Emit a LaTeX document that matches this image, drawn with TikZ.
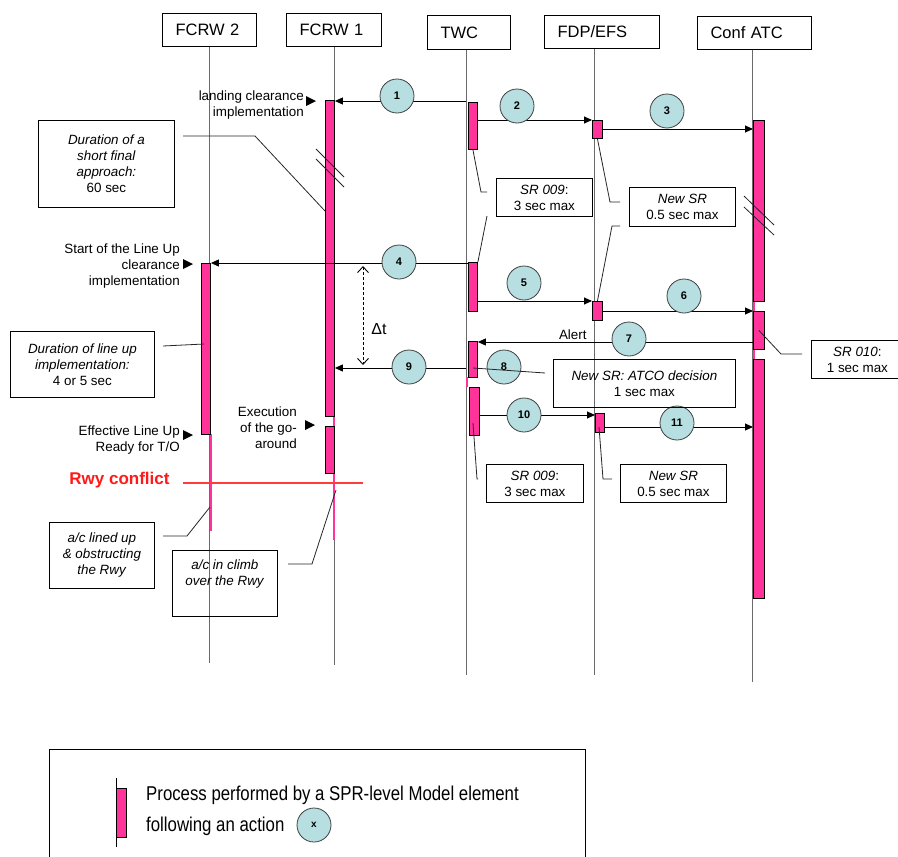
\documentclass[tikz,border=0pt]{standalone}
\usepackage{fontspec}
\setmainfont{Liberation Sans}
\newfontfamily\legendfont{Liberation Sans}[FakeStretch=0.84]
\usetikzlibrary{arrows.meta}
\definecolor{procpink}{HTML}{FF3399}
\definecolor{actfill}{HTML}{B7DEE0}
\definecolor{lifegray}{HTML}{6A6A6A}
\definecolor{conflictred}{HTML}{FF1A1A}
\definecolor{conflictline}{HTML}{FF3C3C}

\begin{document}
\begin{tikzpicture}[x=1pt,y=-1pt,
  font=\fontsize{13.4}{16}\selectfont,
  header/.style={draw,line width=1.1pt,anchor=north west,minimum height=33pt,inner xsep=13pt,inner ysep=0pt,align=left,font=\fontsize{16.5}{19}\selectfont},
  life/.style={draw=lifegray,line width=0.9pt},
  procbar/.style={draw,line width=0.9pt,fill=procpink,inner sep=0pt,minimum width=9pt,anchor=north west},
  pinkline/.style={draw=procpink,line width=1.6pt},
  msg/.style={draw,line width=0.9pt,-{Triangle[length=8pt,width=7pt]}},
  act/.style={circle,draw=black!75,line width=0.8pt,fill=actfill,minimum size=34pt,inner sep=0pt,font=\bfseries\fontsize{11}{13}\selectfont},
  note/.style={draw,line width=0.8pt,anchor=north west,inner sep=0pt,align=center},
  conn/.style={draw=black!85,line width=0.8pt},
  lbl/.style={inner sep=0pt,align=right,anchor=east},
  pointer/.style={fill=black},
  breakmark/.style={draw=black!85,line width=0.8pt}
]
\fill[white] (0,0) rectangle (898,857);
\useasboundingbox (0,0) rectangle (898,857);

% ---------- headers ----------
\node[header,text width=68pt] (hF2) at (162,13) {FCRW 2};
\node[header,text width=69pt] (hF1) at (286,13) {FCRW 1};
\node[header,text width=57pt,minimum height=34pt] (hTWC) at (427,15) {TWC};
\node[header,text width=89pt] (hFDP) at (544,15) {FDP/EFS};
\node[header,text width=88pt] (hATC) at (697,16) {Conf ATC};

% ---------- lifelines ----------
\coordinate (lF2) at (209,663);
\coordinate (lF1) at (334,665);
\coordinate (lTWC) at (466,675);
\coordinate (lFDP) at (594,675);
\coordinate (lATC) at (752,682);
\draw[life] (hF2.south -| lF2) -- (lF2);
\draw[life] (hF1.south -| lF1) -- (lF1);
\draw[life] (hTWC.south -| lTWC) -- (lTWC);
\draw[life] (hFDP.south -| lFDP) -- (lFDP);
\draw[life] (hATC.south -| lATC) -- (lATC);

% ---------- pink stretches of lifelines ----------
\draw[pinkline] (211,434) -- (211,531);
\draw[pinkline] (334,416) -- (334,426);
\draw[pinkline] (334,473) -- (334,540);
\draw[pinkline] (467,377) -- (467,387);
\draw[pinkline] (754,301) -- (754,311);
\draw[pinkline] (754,349) -- (754,359);

% ---------- process bars ----------
\node[procbar,minimum height=316pt] (A1) at (325,100) {};
\node[procbar,minimum height=47pt] (A2) at (325,426) {};
\node[procbar,minimum height=171pt] (B1) at (201,263) {};
\node[procbar,minimum height=47pt] (T1) at (468,102) {};
\node[procbar,minimum height=49pt] (T2) at (468,262) {};
\node[procbar,minimum height=36pt] (T3) at (468,341) {};
\node[procbar,minimum height=48pt,minimum width=10pt] (T4) at (469,387) {};
\node[procbar,minimum height=18pt,minimum width=10pt] (F1) at (592,120) {};
\node[procbar,minimum height=19pt,minimum width=10pt] (F2) at (592,301) {};
\node[procbar,minimum height=19pt] (F3) at (595,413) {};
\node[procbar,minimum height=181pt,minimum width=11pt] (C1) at (753,120) {};
\node[procbar,minimum height=38pt,minimum width=11pt] (C2) at (753,311) {};
\node[procbar,minimum height=239pt,minimum width=11pt] (C3) at (753,359) {};

% ---------- time break marks ----------
\draw[breakmark] (316,149) -- (344,177);
\draw[breakmark] (316,159) -- (344,187);
\draw[breakmark] (744,196) -- (774,225);
\draw[breakmark] (744,207) -- (774,235);

% ---------- messages ----------
\coordinate (m1) at (466,101);
\coordinate (m2) at (477,120);
\coordinate (m3) at (602,129);
\coordinate (m4) at (468,263);
\coordinate (m5) at (477,301);
\coordinate (m6) at (602,311);
\coordinate (m7) at (753,342);
\coordinate (m9) at (466,368);
\coordinate (m10) at (479,415);
\coordinate (m11) at (604,427);
\draw[msg] (m1) -- (A1.east |- m1);
\draw[msg] (m2) -- (F1.west |- m2);
\draw[msg] (m3) -- (C1.west |- m3);
\draw[msg] (m4) -- (B1.east |- m4);
\draw[msg] (m5) -- (F2.west |- m5);
\draw[msg] (m6) -- (C2.west |- m6);
\draw[msg] (m7) -- (T3.east |- m7) node[pos=0.655,above=2pt,inner sep=0pt] (alert) {Alert};
\draw[msg] (m9) -- (A1.east |- m9);
\draw[msg] (m10) -- (F3.west |- m10);
\draw[msg] (m11) -- (C3.west |- m11);

% ---------- action circles ----------
\node[act] (a1) at (397,96) {1};
\node[act] (a2) at (517,106) {2};
\node[act] (a3) at (667,111) {3};
\node[act] (a4) at (399,262) {4};
\node[act] (a5) at (524,283) {5};
\node[act] (a6) at (684,296) {6};
\node[act] (a7) at (629,339) {7};
\node[act] (a8) at (504,367) {8};
\node[act] (a9) at (409,367) {9};
\node[act] (a10) at (524,415) {10};
\node[act] (a11) at (677,423) {11};

% ---------- delta t ----------
\coordinate (dtA) at (363,266);
\coordinate (dtB) at (363,365);
\draw[line width=0.8pt,dash pattern=on 3pt off 2pt,{Straight Barb[length=6pt,width=11pt,line width=0.9pt]}-{Straight Barb[length=6pt,width=11pt,line width=0.9pt]}] (dtA) -- (dtB);
\node[font=\fontsize{16}{18}\selectfont] (dt) at (379,329) {Δt};

% ---------- side labels with pointers ----------
\node[lbl] (lLand) at (304,105) {landing clearance\\implementation};
\fill[pointer] (306,96) -- (316,101) -- (306,106) -- cycle;
\node[lbl] (lStart) at (180,266) {Start of the Line Up\\clearance\\implementation};
\fill[pointer] (183,259) -- (193,264) -- (183,269) -- cycle;
\node[lbl] (lEff) at (180,440) {Effective Line Up\\Ready for T/O};
\fill[pointer] (183,430) -- (193,435) -- (183,440) -- cycle;
\node[lbl] (lExec) at (297,428) {Execution\\of the go-\\around};
\fill[pointer] (305,420) -- (315,425) -- (305,430) -- cycle;

% ---------- runway conflict ----------
\node[font=\bfseries\fontsize{17}{20}\selectfont,text=conflictred] (rwy) at (119.5,480) {Rwy conflict};
\coordinate (rwyA) at (183,483);
\coordinate (rwyB) at (363,483);
\draw[draw=conflictline,line width=1.2pt] (rwyA) -- (rwyB);

% ---------- notes ----------
\node[note,minimum width=136pt,minimum height=87pt] (nShort) at (38,120) {\textit{Duration of a}\\\textit{short final}\\\textit{approach:}\\60 sec};
\node[note,minimum width=96pt,minimum height=38pt] (nSR9a) at (496,178) {\textit{SR 009}:\\3 sec max};
\node[note,minimum width=106pt,minimum height=39pt] (nNewa) at (629,187) {\textit{New SR}\\0.5 sec max};
\node[note,minimum width=92pt,minimum height=38pt] (nSR10) at (811,340) {\textit{SR 010}:\\1 sec max};
\node[note,minimum width=182pt,minimum height=48pt] (nATCO) at (553,359) {\textit{New SR: ATCO decision}\\1 sec max};
\node[note,minimum width=144pt,minimum height=66pt] (nLine) at (10,331) {\textit{Duration of line up}\\\textit{implementation:}\\4 or 5 sec};
\node[note,minimum width=97pt,minimum height=38pt] (nSR9b) at (486,464) {\textit{SR 009}:\\3 sec max};
\node[note,minimum width=106pt,minimum height=38pt] (nNewb) at (620,464) {\textit{New SR}\\0.5 sec max};
\node[note,minimum width=105pt,minimum height=66pt] (nLined) at (49,522) {\textit{a/c lined up}\\\textit{\& obstructing}\\\textit{the Rwy}};
\node[note,minimum width=105pt,minimum height=66pt] (nClimb) at (172,550) {\textit{a/c in climb}\\\textit{over the Rwy}\\\strut};

% ---------- note connectors ----------
\coordinate (k1) at (183,136);  \coordinate (e1) at (325,211);
\draw[conn] (k1) -- (255,136) -- (e1);
\coordinate (k2) at (487,192);
\draw[conn] (T1.south) -- (481,192) -- (k2);
\coordinate (k3) at (487,216);
\draw[conn] (k3) -- (T2.north east);
\coordinate (k4) at (620,202);
\draw[conn] (F1.south) -- (610,202) -- (k4);
\coordinate (k5) at (620,226);
\draw[conn] (k5) -- (612,226) -- (F2.north);
\coordinate (k6) at (802,354);
\draw[conn] (C2.center) -- (781,354) -- (k6);
\coordinate (k7) at (545,373); \coordinate (e7) at (473,368);
\draw[conn] (k7) -- (e7);
\coordinate (k8) at (163,346); \coordinate (e8) at (204,344);
\draw[conn] (k8) -- (e8);
\coordinate (k9) at (478,479); \coordinate (e9) at (473,423);
\draw[conn] (e9) -- (477,479) -- (k9);
\coordinate (k10) at (612,479); \coordinate (e10) at (599,427);
\draw[conn] (e10) -- (603,479) -- (k10);
\coordinate (k11) at (163,536); \coordinate (e11) at (210,507);
\draw[conn] (k11) -- (187,536) -- (e11);
\coordinate (k12) at (288,564); \coordinate (e12) at (336,490);
\draw[conn] (k12) -- (312,564) -- (e12);

% ---------- legend ----------
\node[draw,line width=0.8pt,anchor=north west,minimum width=536pt,minimum height=130pt,inner sep=0pt] (legend) at (49,749) {};
\coordinate (lgA) at (116,778);
\coordinate (lgB) at (116,847);
\draw[line width=0.9pt] (lgA) -- (lgB);
\node[procbar,minimum width=10pt,minimum height=49pt] (lgBar) at (116,788) {};
\node[anchor=west,inner sep=0pt,font=\legendfont\fontsize{20}{22}\selectfont] (lgT1) at (146,795) {Process performed by a SPR-level Model element};
\node[anchor=west,inner sep=0pt,font=\legendfont\fontsize{20}{22}\selectfont] (lgT2) at (146,826) {following an action};
\node[act,font=\bfseries\fontsize{10}{12}\selectfont] (lgX) at (314,825) {x};
\end{tikzpicture}
\end{document}
